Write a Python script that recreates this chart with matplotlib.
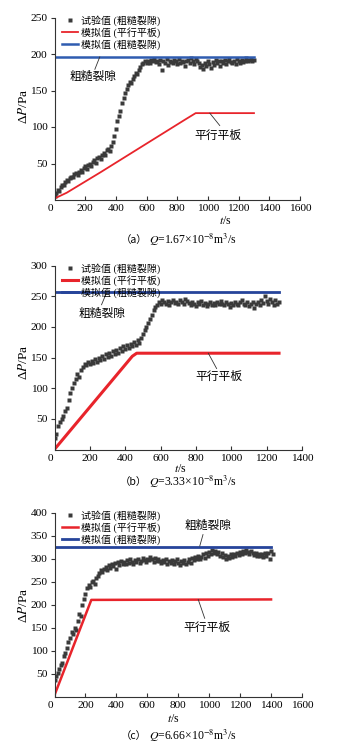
import matplotlib
matplotlib.use("Agg")
import matplotlib.pyplot as plt
import matplotlib.transforms as mtransforms

plt.rcParams['font.family'] = ['Liberation Serif', 'Noto Sans CJK SC']
plt.rcParams['mathtext.fontset'] = 'stix'

# ---------------- data ----------------
t_a = list(range(0, 1301, 10))
p_a = [5, 10, 14, 13, 18, 21, 20, 25, 27, 26, 30, 32, 31, 35, 37, 34, 39, 41, 38, 44,
       46, 43, 48, 50, 47, 52, 55, 51, 57, 59, 56, 62, 64, 61, 68, 70, 67, 74,
       80, 88, 97, 108, 115, 122, 133, 140, 146, 152, 157, 162, 160, 166, 170, 174, 172, 178, 182, 186,
       188, 190, 187,
       190, 188, 192, 190, 193, 189, 191, 186, 192, 178, 190, 188, 193, 185, 191, 189, 187, 192, 190,
       186, 193, 188, 191, 189, 184, 190, 192, 188, 194, 191, 186, 193, 190, 188, 182, 185, 180, 188, 183,
       190, 186, 181, 189, 185, 192, 187, 190, 184, 191, 188, 192, 186, 190, 193, 189, 187, 191, 186, 193,
       190, 188, 192, 189, 191, 194, 190, 192, 193, 191, 192]
sim_par_t_a = [0, 80, 300, 850, 920, 1300]
sim_par_p_a = [2, 10, 38, 110, 119, 119]
sim_rough_t_a = [0, 1300]
sim_rough_p_a = [196, 196]

t_b = list(range(0, 1271, 10))
p_b = [18, 25, 38, 45, 50, 55, 62, 68, 80, 92, 100, 108, 115, 123, 118, 130, 135, 140, 137, 142,
       139, 145, 141, 147, 143, 150, 146, 152, 148, 155, 151, 157, 153, 160, 156, 162, 158, 165, 161, 168,
       164, 170, 166, 172, 168, 175, 171, 178, 174, 182, 188, 195, 200, 207, 213, 220, 228, 233, 236, 240,
       238, 243, 241, 238, 242, 236, 240, 244, 239, 241, 237, 243, 240, 238, 245, 242, 239, 236, 241, 238,
       234, 240, 237, 242, 236, 239, 234, 238, 241, 236, 239, 235, 240, 237, 242, 238, 235, 240, 237, 233,
       239, 236, 241, 237, 235, 240, 243, 238, 236, 240, 234, 237, 241, 231, 238, 240, 236, 244, 239, 250,
       242, 238, 245, 240, 236, 243, 238, 241]
sim_par_t_b = [5, 440, 465, 1270]
sim_par_p_b = [2, 152, 157, 157]
sim_rough_t_b = [0, 1270]
sim_rough_p_b = [256, 256]

t_c = list(range(0, 1411, 10))
p_c = [36, 45, 51, 60, 68, 72, 88, 94, 105, 119, 128, 141, 135, 150, 145, 165, 180, 175, 200, 212,
       222, 235, 242, 238, 248, 252, 245, 258, 262, 268, 275, 270, 278, 282, 276, 285, 280, 288, 283, 290,
       278, 292, 286, 295, 289, 293, 287, 296, 291, 298, 292, 288, 296, 293, 299, 291, 295, 302, 297, 293,
       300, 296, 303, 298, 292, 301, 295, 299, 294, 290, 297, 293, 300, 288, 295, 291, 297, 289, 294, 298,
       291, 286, 295, 290, 296, 288, 293, 298, 291, 301, 296, 303, 298, 306, 300, 304, 309, 302, 312, 306,
       315, 310, 318, 312, 316, 309, 314, 305, 311, 303, 308, 300, 306, 302, 309, 304, 310, 306, 312, 308,
       315, 310, 317, 312, 318, 314, 309, 316, 311, 307, 312, 306, 310, 305, 309, 304, 311, 306, 313, 300,
       316, 309]
sim_par_t_c = [0, 238, 1400]
sim_par_p_c = [3, 210, 211]
sim_rough_t_c = [0, 1400]
sim_rough_p_c = [326, 326]

legend_labels = ['试验值 (粗糙裂隙)', '模拟值 (平行平板)', '模拟值 (粗糙裂隙)']
panel_tags = ['（a）', '（b）', '（c）']
flow_texts = ['$Q$=1.67×10$^{-8}$m$^{3}$/s',
              '$Q$=3.33×10$^{-8}$m$^{3}$/s',
              '$Q$=6.66×10$^{-8}$m$^{3}$/s']

RED = '#e8242b'
BLUE = '#26449a'
DOT = '#3a3a3a'

fig = plt.figure(figsize=(3.49, 7.48), dpi=100)
W, H = 349, 748

def make_ax(left, bottom_px, right_px, top_px):
    return fig.add_axes([left / W, (H - bottom_px) / H, (right_px - left) / W, (bottom_px - top_px) / H])

axes = [make_ax(54.5, 200, 300, 17.5), make_ax(54.5, 449.5, 302, 265.5), make_ax(54.5, 696.5, 302, 512.5)]

cfg = [
    dict(t=t_a, p=p_a, pt=sim_par_t_a, pp=sim_par_p_a, rt=sim_rough_t_a, rp=sim_rough_p_a,
         xmax=1600, ymax=250, ystep=50, red_lw=1.3, blue='#2f5cb0', blue_lw=1.8,
         rough_txt=(250, 168), rough_l=((295, 196), (263, 179)),
         par_txt=(1066, 88), par_l=((1012, 119), (1077, 102)),
         xl_px=(225, 221), yl=0.516, cap_y=240),
    dict(t=t_b, p=p_b, pt=sim_par_t_b, pp=sim_par_p_b, rt=sim_rough_t_b, rp=sim_rough_p_b,
         xmax=1400, ymax=300, ystep=50, red_lw=2.2, blue=BLUE, blue_lw=2.0,
         rough_txt=(266, 221), rough_l=((295, 256), (266, 236)),
         par_txt=(927, 119), par_l=((870, 157), (917, 132)),
         xl_px=(180, 468.5), yl=0.475, cap_y=481.5),
    dict(t=t_c, p=p_c, pt=sim_par_t_c, pp=sim_par_p_c, rt=sim_rough_t_c, rp=sim_rough_p_c,
         xmax=1600, ymax=400, ystep=50, red_lw=1.8, blue=BLUE, blue_lw=2.0,
         rough_txt=(992, 371), rough_l=((960, 352), (939, 327)),
         par_txt=(982, 148), par_l=((929, 211), (971, 170)),
         xl_px=(173, 719), yl=0.494, cap_y=736),
]

for ax, c, tag, flow in zip(axes, cfg, panel_tags, flow_texts):
    ax.plot(c['t'], c['p'], 's', ms=2.4, color=DOT, mec='none', label=legend_labels[0])
    ax.plot(c['pt'], c['pp'], '-', color=RED, lw=c['red_lw'], label=legend_labels[1])
    ax.plot(c['rt'], c['rp'], '-', color=c['blue'], lw=c['blue_lw'], label=legend_labels[2])
    ax.set_xlim(0, c['xmax'])
    ax.set_ylim(0, c['ymax'])
    ax.set_xticks(range(0, c['xmax'] + 1, 200))
    ax.set_yticks(range(c['ystep'], c['ymax'] + 1, c['ystep']))
    ax.spines['top'].set_visible(False)
    ax.spines['right'].set_visible(False)
    for s in ('left', 'bottom'):
        ax.spines[s].set_linewidth(0.8)
        ax.spines[s].set_color('#333333')
    ax.tick_params(axis='x', direction='in', length=3, labelsize=8.2, pad=3, color='#333333')
    ax.tick_params(axis='y', direction='out', length=3, labelsize=8.2, pad=2, color='#333333')
    # the "0" on the x axis sits slightly left of the corner
    first = ax.get_xticklabels()[0]
    first.set_transform(first.get_transform() + mtransforms.ScaledTranslation(-4 / 100, 0, fig.dpi_scale_trans))
    ax.set_ylabel('Δ$P$/Pa', fontsize=9.5)
    ax.yaxis.set_label_coords(-0.1, c['yl'])
    fig.text(c['xl_px'][0] / W, 1 - c['xl_px'][1] / H, '$t$/s', fontsize=8.5,
             ha='center', va='center')
    ax.legend(loc='upper left', bbox_to_anchor=(0.03, 1.014), frameon=False, fontsize=7.2,
              handlelength=1.6, handletextpad=0.35, labelspacing=0.15, borderpad=0.0,
              borderaxespad=0.0, markerscale=1.0)
    ax.text(*c['rough_txt'], '粗糙裂隙', fontsize=8.5, ha='center', va='center')
    (x0, y0), (x1, y1) = c['rough_l']
    ax.plot([x0, x1], [y0, y1], color='#333333', lw=0.6)
    ax.text(*c['par_txt'], '平行平板', fontsize=8.5, ha='center', va='center')
    (x0, y0), (x1, y1) = c['par_l']
    ax.plot([x0, x1], [y0, y1], color='#333333', lw=0.6)
    fig.text(147 / W, 1 - c['cap_y'] / H, tag, fontsize=7.5, ha='right', va='center',
             family='Noto Sans CJK SC')
    fig.text(149 / W, 1 - c['cap_y'] / H, flow, fontsize=8.5, ha='left', va='center')

fig.savefig('out.png', dpi=100)
